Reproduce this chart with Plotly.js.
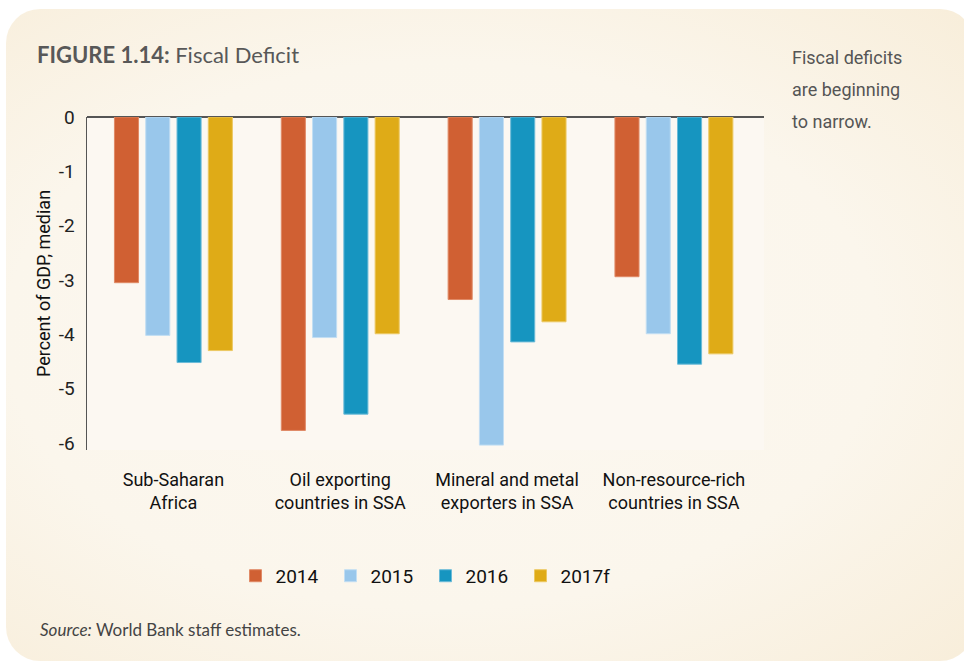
<!DOCTYPE html>
<html>
<head>
<meta charset="utf-8">
<script src="https://cdn.plot.ly/plotly-3.0.1.min.js"></script>
<style>
  html, body { margin: 0; padding: 0; background: #ffffff; }
  #card {
    position: absolute; left: 6px; top: 9px; width: 968px; height: 652px;
    border-radius: 34px;
    background: radial-gradient(ellipse 75% 70% at 45% 50%, #fcf8f1 0%, #fbf6ec 60%, #f8eedb 100%);
  }
  #chart { position: absolute; left: 0; top: 0; width: 964px; height: 665px; }
</style>
</head>
<body>
<div id="card"></div>
<div id="chart"></div>
<script>
const categories = [
  "Sub-Saharan<br>Africa",
  "Oil exporting<br>countries in SSA",
  "Mineral and metal<br>exporters in SSA",
  "Non-resource-rich<br>countries in SSA"
];
const seriesNames = ["2014", "2015", "2016", "2017f"];
const v2014 = [-3.05, -5.77, -3.36, -2.94];
const v2015 = [-4.02, -4.06, -6.04, -3.99];
const v2016 = [-4.52, -5.47, -4.14, -4.55];
const v2017 = [-4.30, -3.99, -3.77, -4.36];
const yTicks = [0, -1, -2, -3, -4, -5, -6];
const colors = ["#d06033", "#99c7eb", "#1695c0", "#dfab17"];
const lineColors = ["#e08a66", "#c2def3", "#6cbbd8", "#ecc862"];
const noteLines = ["Fiscal deficits", "are beginning", "to narrow."];

const narrow = "Roboto, 'Liberation Sans', sans-serif";
const values = [v2014, v2015, v2016, v2017];

const traces = values.map((v, i) => ({
  type: "bar",
  name: seriesNames[i],
  x: categories,
  y: v,
  marker: { color: colors[i], line: { color: lineColors[i], width: 1 } },
  hoverinfo: "x+y+name"
}));

const annotations = [
  {
    xref: "paper", yref: "paper", x: -0.0724, y: -0.54, xanchor: "left", yanchor: "middle",
    text: "<i>Source:</i> World Bank staff estimates.", showarrow: false,
    font: { family: "Lato, sans-serif", size: 17, color: "#444444" }
  }
];
noteLines.forEach((t, k) => {
  annotations.push({
    xref: "paper", yref: "paper", x: 1.0384, y: (450 - (57 + 32 * k)) / 333.3,
    xanchor: "left", yanchor: "middle", text: t, showarrow: false,
    font: { family: narrow, size: 18, color: "#555555" }
  });
});

const layout = {
  width: 964, height: 665,
  paper_bgcolor: "rgba(0,0,0,0)",
  plot_bgcolor: "#fcf8f2",
  margin: { l: 87, r: 200, t: 117, b: 215 },
  barmode: "group",
  bargap: 0.25,
  bargroupgap: 0.23,
  showlegend: true,
  title: {
    text: "<b>FIGURE 1.14:</b> Fiscal Deficit",
    xref: "container", yref: "container",
    x: 37 / 964, xanchor: "left",
    y: 1 - 55 / 665, yanchor: "middle",
    font: { family: "Lato, sans-serif", size: 22, color: "#585858" }
  },
  xaxis: {
    type: "category",
    range: [-0.518, 3.54],
    showline: false, showgrid: false, zeroline: false,
    ticks: "", ticklabelstandoff: 17, tickangle: 0,
    tickfont: { family: narrow, size: 18, color: "#111111" }
  },
  yaxis: {
    range: [-6.13, 0],
    tickvals: yTicks,
    ticktext: yTicks.map(String),
    showgrid: false,
    showline: true, linecolor: "#555555", linewidth: 1.5,
    zeroline: true, zerolinecolor: "#555555", zerolinewidth: 1.5,
    ticks: "", ticklabelstandoff: 7,
    tickfont: { family: narrow, size: 19, color: "#222222" },
    title: {
      text: "Percent of GDP, median", standoff: 3,
      font: { family: narrow, size: 18, color: "#111111" }
    }
  },
  legend: {
    orientation: "h",
    x: 0.5, xanchor: "center",
    y: -0.378, yanchor: "middle",
    entrywidth: 50, entrywidthmode: "pixels",
    bgcolor: "rgba(0,0,0,0)",
    font: { family: narrow, size: 19, color: "#111111" }
  },
  annotations: annotations
};

Plotly.newPlot("chart", traces, layout, { displayModeBar: false, staticPlot: true });
</script>
</body>
</html>
